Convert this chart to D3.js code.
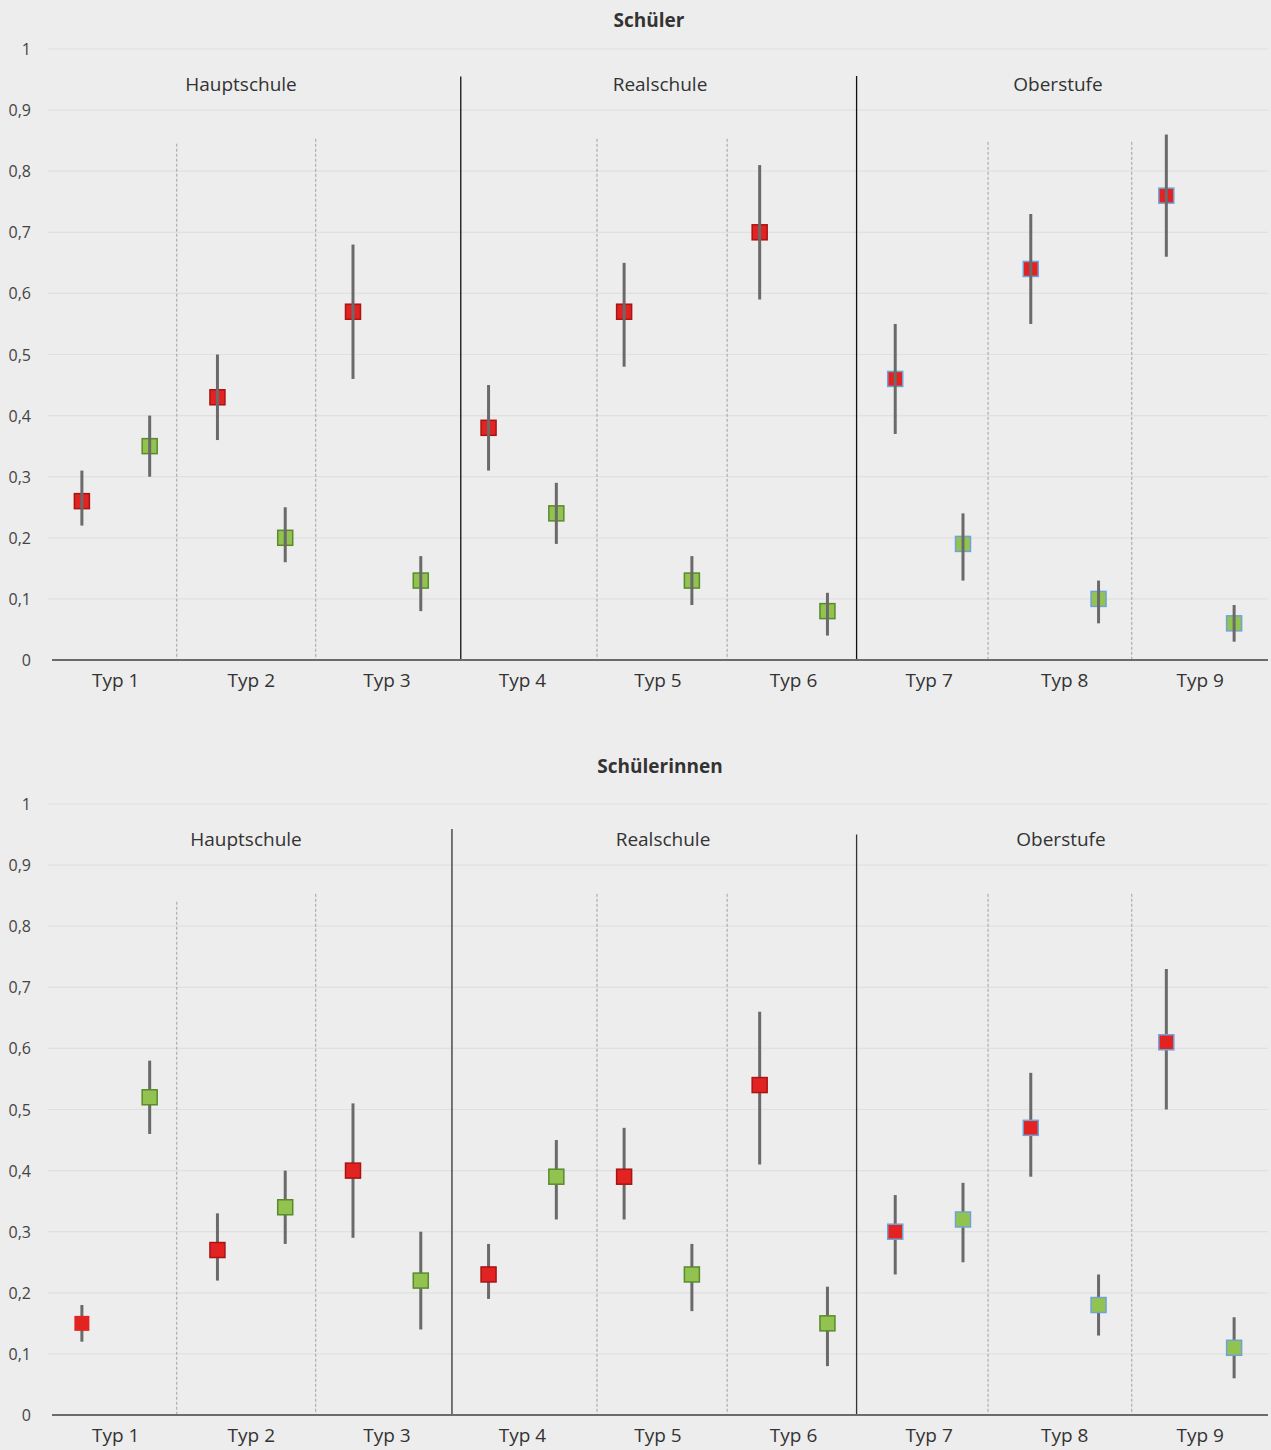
<!DOCTYPE html>
<html><head><meta charset="utf-8">
<script src="https://cdn.jsdelivr.net/npm/d3@7"></script>
<style>
body{margin:0;background:#ededed;}
svg{display:block;font-family:"Open Sans","Noto Sans",sans-serif;}
</style></head>
<body><svg id="c" width="1271" height="1450"></svg>
<script>
// ---- data ----
const types = ["Typ 1","Typ 2","Typ 3","Typ 4","Typ 5","Typ 6","Typ 7","Typ 8","Typ 9"];
const groups = ["Hauptschule","Realschule","Oberstufe"];
const yTicks = [0,0.1,0.2,0.3,0.4,0.5,0.6,0.7,0.8,0.9,1];
const titles = ["Schüler","Schülerinnen"];

// Schüler (boys)
const boysRed      = [0.26,0.43,0.57,0.38,0.57,0.70,0.46,0.64,0.76];
const boysRedLo    = [0.22,0.36,0.46,0.31,0.48,0.59,0.37,0.55,0.66];
const boysRedHi    = [0.31,0.50,0.68,0.45,0.65,0.81,0.55,0.73,0.86];
const boysGreen    = [0.35,0.20,0.13,0.24,0.13,0.08,0.19,0.10,0.06];
const boysGreenLo  = [0.30,0.16,0.08,0.19,0.09,0.04,0.13,0.06,0.03];
const boysGreenHi  = [0.40,0.25,0.17,0.29,0.17,0.11,0.24,0.13,0.09];

// Schülerinnen (girls)
const girlsRed     = [0.15,0.27,0.40,0.23,0.39,0.54,0.30,0.47,0.61];
const girlsRedLo   = [0.12,0.22,0.29,0.19,0.32,0.41,0.23,0.39,0.50];
const girlsRedHi   = [0.18,0.33,0.51,0.28,0.47,0.66,0.36,0.56,0.73];
const girlsGreen   = [0.52,0.34,0.22,0.39,0.23,0.15,0.32,0.18,0.11];
const girlsGreenLo = [0.46,0.28,0.14,0.32,0.17,0.08,0.25,0.13,0.06];
const girlsGreenHi = [0.58,0.40,0.30,0.45,0.28,0.21,0.38,0.23,0.16];

// separators in slot units (18 slots: 2 per type)
const sepDotted = [1.90,3.95,8.10,10.02,13.87,15.99];
const sepSolidTop = [6.09,11.93];
const sepSolidBottom = [5.96,11.93];

// ---- drawing ----
const svg = d3.select("#c");
const left = 48, right = 1268;

function drawPanel(cfg){
  const g = svg.append("g");
  const y = d3.scaleLinear().domain([0,1]).range([cfg.y0, cfg.y1]);
  const xs = d3.scaleLinear().domain([0,18]).range([left,right]);
  const xType = d3.scaleBand().domain(types).range([left,right]);
  const xPt = (i,s)=> xs(i*2 + s + 0.5);

  // title
  g.append("text").attr("x",cfg.titleX).attr("y",cfg.titleY).attr("text-anchor","middle")
    .attr("font-weight","bold").attr("font-size",19).attr("fill","#333").text(cfg.title);

  // gridlines
  g.selectAll("line.grid").data(yTicks.slice(1)).join("line")
    .attr("x1",left).attr("x2",right).attr("y1",d=>y(d)).attr("y2",d=>y(d))
    .attr("stroke","#e0e0e0").attr("stroke-width",1.2);

  // y tick labels
  g.selectAll("text.yt").data(yTicks).join("text")
    .attr("x",31).attr("y",d=>y(d)+6).attr("text-anchor","end")
    .attr("font-size",16).attr("fill","#444")
    .text(d=>d===0?"0":d===1?"1":d3.format(".1f")(d).replace(".",","));

  // dotted separators
  g.selectAll("line.dot").data(sepDotted).join("line")
    .attr("x1",d=>xs(d)).attr("x2",d=>xs(d))
    .attr("y1",(d,i)=>y(cfg.dotTop[i])).attr("y2",y(0))
    .attr("stroke","#a0a0a0").attr("stroke-width",1).attr("stroke-dasharray","3,2");

  // solid separators
  g.selectAll("line.sol").data(cfg.solid).join("line")
    .attr("x1",d=>xs(d)).attr("x2",d=>xs(d))
    .attr("y1",(d,i)=>y(cfg.solidTop[i])).attr("y2",y(0))
    .attr("stroke",cfg.solidColor).attr("stroke-width",1.3);

  // group labels
  g.selectAll("text.grp").data(groups).join("text")
    .attr("x",(d,i)=>cfg.groupX[i]).attr("y",y(0.931)).attr("text-anchor","middle")
    .attr("font-size",19).attr("fill","#333").text(d=>d);

  // x axis line
  g.append("line").attr("x1",52).attr("x2",right).attr("y1",y(0)).attr("y2",y(0))
    .attr("stroke","#6b6b6b").attr("stroke-width",2);

  // x labels
  g.selectAll("text.xl").data(types).join("text")
    .attr("x",d=>xType(d)+xType.bandwidth()/2).attr("y",y(0)+27).attr("text-anchor","middle")
    .attr("font-size",19).attr("fill","#333").text(d=>d);

  const series = [
    {v:cfg.red, lo:cfg.redLo, hi:cfg.redHi, s:0, fill:"#e32222", stroke:"#a81414"},
    {v:cfg.green, lo:cfg.greenLo, hi:cfg.greenHi, s:1, fill:"#92c350", stroke:"#5a8a2c"}
  ];
  const sz = 15;
  function bars(){
    series.forEach(se=>{
      g.selectAll(null).data(se.v).join("line")
        .attr("x1",(d,i)=>xPt(i,se.s)).attr("x2",(d,i)=>xPt(i,se.s))
        .attr("y1",(d,i)=>y(se.hi[i])).attr("y2",(d,i)=>y(se.lo[i]))
        .attr("stroke","#6a6a6a").attr("stroke-width",3);
    });
  }
  function marks(){
    series.forEach(se=>{
      g.selectAll(null).data(se.v).join("rect")
        .attr("x",(d,i)=>xPt(i,se.s)-sz/2).attr("y",d=>y(d)-sz/2)
        .attr("width",sz).attr("height",sz)
        .attr("fill",se.fill)
        .attr("stroke",(d,i)=> i>=6 ? "#6fa3d6" : (cfg.noBorderFirstRed && se.s===0 && i===0 ? "none" : se.stroke))
        .attr("stroke-width",1.5);
    });
  }
  if(cfg.barsOnTop){ marks(); bars(); } else { bars(); marks(); }
}

drawPanel({title:titles[0], titleX:649, titleY:27, y0:660, y1:49,
  red:boysRed, redLo:boysRedLo, redHi:boysRedHi,
  green:boysGreen, greenLo:boysGreenLo, greenHi:boysGreenHi,
  dotTop:[0.845,0.853,0.853,0.853,0.848,0.848],
  solid:sepSolidTop, solidTop:[0.955,0.956], solidColor:"#111",
  groupX:[241,660,1058], barsOnTop:true, noBorderFirstRed:false});

drawPanel({title:titles[1], titleX:660, titleY:773, y0:1415, y1:804,
  red:girlsRed, redLo:girlsRedLo, redHi:girlsRedHi,
  green:girlsGreen, greenLo:girlsGreenLo, greenHi:girlsGreenHi,
  dotTop:[0.84,0.853,0.853,0.853,0.853,0.853],
  solid:sepSolidBottom, solidTop:[0.959,0.95], solidColor:"#333",
  groupX:[246,663,1061], barsOnTop:false, noBorderFirstRed:true});
</script></body></html>
